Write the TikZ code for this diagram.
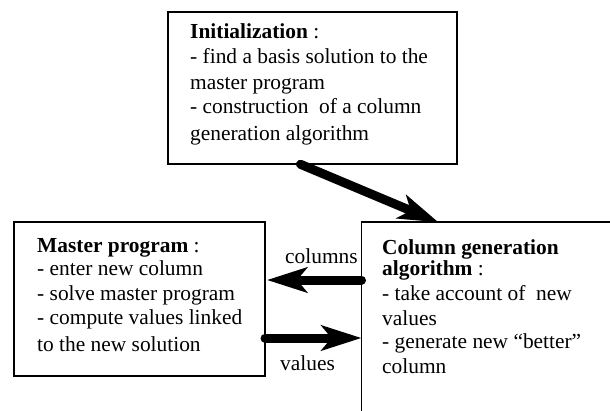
\documentclass[tikz,border=0pt]{standalone}
\usepackage{fontspec}
\setmainfont{Liberation Serif}
\usetikzlibrary{arrows.meta,calc}
\begin{document}
\begin{tikzpicture}[x=1pt,y=-1pt,
  box/.style={draw,line width=1.7pt,rectangle,inner sep=0pt,outer sep=0pt,anchor=north west},
  txt/.style={anchor=base west,inner sep=0pt,font=\fontsize{21.4}{25}\selectfont},
  flow/.style={line width=9pt,line cap=round,-{Stealth[length=40pt,width=25pt,inset=10pt]}}]
\useasboundingbox (0,0) rectangle (610,410);
\clip (0,0) rectangle (610,410);
\fill[white] (0,0) rectangle (610,410);
% boxes
\node[box,minimum width=288.4pt,minimum height=152pt] (init) at (168.3,12.3) {};
\node[box,minimum width=251pt,minimum height=153.4pt] (mp) at (14,222.3) {};
\node[box,minimum width=249.3pt,minimum height=220pt] (cg) at (361.5,222.3) {};
% initialization text
\node[txt] (i1) at (190,38.3) {\textbf{Initialization} :};
\node[txt] (i2) at (190,63.3) {- find a basis solution to the};
\node[txt] (i3) at (190,89.5) {master program};
\node[txt] (i4) at (190,113.3) {- construction\ \ of a column};
\node[txt] (i5) at (190,140) {generation algorithm};
% master program text
\node[txt] (m1) at (37,252) {\textbf{Master program} :};
\node[txt] (m2) at (37,275.5) {- enter new column};
\node[txt] (m3) at (37,300) {- solve master program};
\node[txt] (m4) at (37,324) {- compute values linked};
\node[txt] (m5) at (37,351) {to the new solution};
% column generation text
\node[txt] (c1) at (382,254) {\textbf{Column generation}};
\node[txt] (c2) at (382,275) {\textbf{algorithm} :};
\node[txt] (c3) at (382,300) {- take account of\ \ new};
\node[txt] (c4) at (382,325) {values};
\node[txt] (c5) at (382,348) {- generate new “better”};
\node[txt] (c6) at (382,373) {column};
% connectors
\draw[flow] ($(init.south)+(-12,0)$) -- ($(cg.north west)+(77,0)$);
\draw[flow] ($(cg.north west)+(0,57.7)$) -- ($(mp.north east)+(2,57.7)$);
\draw[flow] ($(mp.north east)+(0,115.7)$) -- ($(cg.north west)+(0,115.7)$);
% labels
\node[txt] (lc) at (285,263) {columns};
\node[txt] (lv) at (280,370) {values};
\end{tikzpicture}
\end{document}
